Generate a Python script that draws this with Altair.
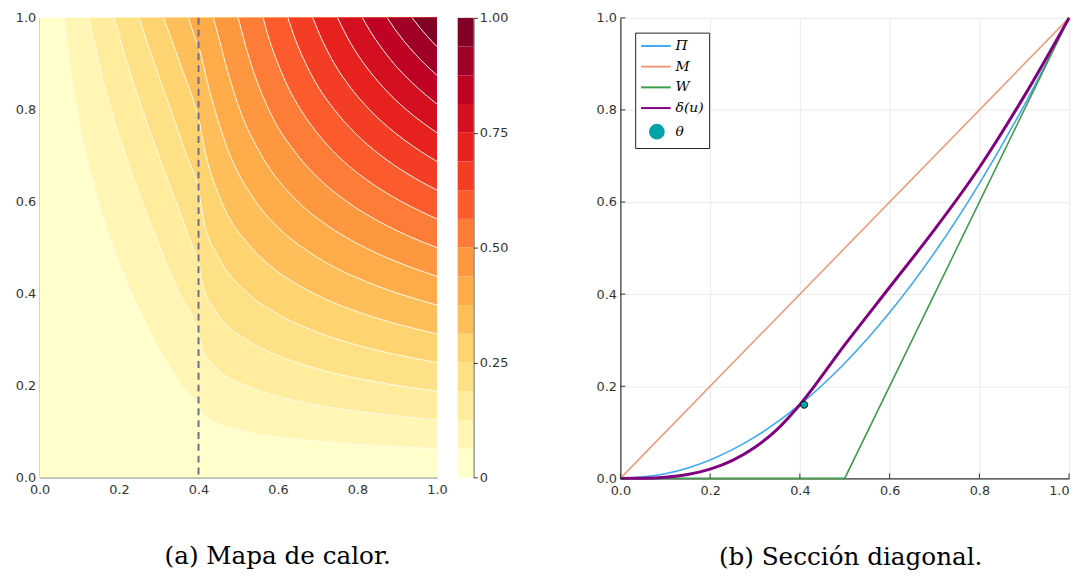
import altair as alt
import pandas as pd

THETA = 0.4

# ---------------- left panel: contour levels & colours ----------------
level_edges = [0.0, 0.0625, 0.125, 0.1875, 0.25, 0.3125, 0.375, 0.4375, 0.5,
               0.5625, 0.625, 0.6875, 0.75, 0.8125, 0.875, 0.9375, 1.0]
band_colors = ["#ffffcc", "#fff5b4", "#ffec9d", "#fee187", "#fed470", "#febf5a",
               "#feab49", "#fd9740", "#fd7c37", "#fc5b2e", "#f43d25", "#e6211e",
               "#d41020", "#c00225", "#a10026", "#800026"]
cbar_ticks = [0, 0.25, 0.5, 0.75, 1.0]
axis_ticks = [0.0, 0.2, 0.4, 0.6, 0.8, 1.0]

# contour lines (u, v), one list per level
contour_00 = [(0.0, 0.0), (1.0, 0.0)]
contour_01 = [(0.0625, 1.0), (0.076, 0.9), (0.094, 0.8), (0.1175, 0.7), (0.148, 0.6),
              (0.186, 0.5), (0.232, 0.4), (0.288, 0.3), (0.32, 0.25), (0.358, 0.2),
              (0.4, 0.156), (0.4085, 0.14), (0.442, 0.12), (0.517, 0.10), (0.583, 0.09),
              (0.682, 0.08), (0.832, 0.07), (0.937, 0.065), (1.0, 0.0625)]
contour_02 = [(0.125, 1.0), (0.15, 0.9), (0.18, 0.8), (0.217, 0.7), (0.258, 0.6),
              (0.303, 0.5), (0.352, 0.4), (0.4, 0.3125), (0.409, 0.28), (0.4425, 0.24),
              (0.518, 0.2), (0.584, 0.18), (0.682, 0.16), (0.833, 0.14), (0.937, 0.13),
              (1.0, 0.125)]
contour_03 = [(0.1875, 1.0), (0.221, 0.9), (0.259, 0.8), (0.3, 0.7), (0.343, 0.6),
              (0.386, 0.5), (0.4, 0.469), (0.41, 0.42), (0.445, 0.36), (0.52, 0.30),
              (0.586, 0.27), (0.684, 0.24), (0.833, 0.21), (0.937, 0.195), (1.0, 0.1875)]
contour_04 = [(0.25, 1.0), (0.289, 0.9), (0.33, 0.8), (0.37, 0.7), (0.4, 0.625),
              (0.413, 0.56), (0.45, 0.48), (0.525, 0.40), (0.59, 0.36), (0.686, 0.32),
              (0.834, 0.28), (0.937, 0.26), (1.0, 0.25)]
contour_05 = [(0.3125, 1.0), (0.354, 0.9), (0.394, 0.8), (0.4, 0.78125), (0.419, 0.70),
              (0.458, 0.60), (0.533, 0.50), (0.596, 0.45), (0.691, 0.40), (0.836, 0.35),
              (0.938, 0.325), (1.0, 0.3125)]
contour_06 = [(0.375, 1.0), (0.394, 0.95), (0.4, 0.9375), (0.428, 0.84), (0.471, 0.72),
              (0.544, 0.60), (0.605, 0.54), (0.697, 0.48), (0.839, 0.42), (0.94, 0.39),
              (1.0, 0.375)]
contour_07 = [(0.4375, 1.0), (0.453, 0.95), (0.468, 0.9), (0.504, 0.8), (0.559, 0.7),
              (0.65, 0.6), (0.721, 0.55), (0.819, 0.5), (0.896, 0.47), (1.0, 0.4375)]
contour_08 = [(0.5, 1.0), (0.515, 0.95), (0.532, 0.9), (0.577, 0.8), (0.65, 0.7),
              (0.703, 0.65), (0.7735, 0.6), (0.869, 0.55), (0.942, 0.52), (1.0, 0.5)]
contour_09 = [(0.5625, 1.0), (0.579, 0.95), (0.6, 0.9), (0.625, 0.85), (0.657, 0.8),
              (0.698, 0.75), (0.75, 0.7), (0.819, 0.65), (0.911, 0.6), (0.956, 0.58),
              (1.0, 0.5625)]
contour_10 = [(0.625, 1.0), (0.645, 0.95), (0.67, 0.9), (0.701, 0.85), (0.742, 0.8),
              (0.793, 0.75), (0.8595, 0.7), (0.927, 0.66), (0.967, 0.64), (1.0, 0.625)]
contour_11 = [(0.6875, 1.0), (0.712, 0.95), (0.742, 0.9), (0.781, 0.85), (0.8306, 0.8),
              (0.894, 0.75), (0.941, 0.72), (0.976, 0.7), (1.0, 0.6875)]
contour_12 = [(0.75, 1.0), (0.767, 0.97), (0.786, 0.94), (0.8165, 0.9), (0.8635, 0.85),
              (0.923, 0.8), (0.967, 0.77), (1.0, 0.75)]
contour_13 = [(0.8125, 1.0), (0.8327, 0.97), (0.856, 0.94), (0.892, 0.9), (0.936, 0.86),
              (0.975, 0.83), (1.0, 0.8125)]
contour_14 = [(0.875, 1.0), (0.8905, 0.98), (0.9166, 0.95), (0.9466, 0.92), (0.969, 0.9),
              (1.0, 0.875)]
contour_15 = [(0.9375, 1.0), (0.9557, 0.98), (0.9755, 0.96), (1.0, 0.9375)]

contours = [contour_00, contour_01, contour_02, contour_03, contour_04, contour_05,
            contour_06, contour_07, contour_08, contour_09, contour_10, contour_11,
            contour_12, contour_13, contour_14, contour_15]

# ---------------- right panel: diagonal sections ----------------
series_names = ["Π", "M", "W", "δ(u)", "θ"]
series_colors = ["#3fa9f5", "#ee9b7c", "#3d9c46", "#800080", "#00a3a8"]
LINE_SYM = "M-1,0L3,0"
DOT_SYM = "M0.2,0A0.93,0.93 0 1,0 2.06,0A0.93,0.93 0 1,0 0.2,0Z"
series_shapes = [LINE_SYM, LINE_SYM, LINE_SYM, LINE_SYM, DOT_SYM]

pi_u = [0.0, 0.1, 0.2, 0.3, 0.4, 0.5, 0.6, 0.7, 0.8, 0.9, 1.0]
pi_v = [0.0, 0.01, 0.04, 0.09, 0.16, 0.25, 0.36, 0.49, 0.64, 0.81, 1.0]
m_u = [0.0, 1.0]
m_v = [0.0, 1.0]
w_u = [0.0, 0.5, 1.0]
w_v = [0.0, 0.0, 1.0]
d_u = [0.0, 0.05, 0.1, 0.15, 0.2, 0.25, 0.3, 0.35, 0.4, 0.5, 0.6, 0.7, 0.8, 0.9, 1.0]
d_v = [0.0, 0.0003, 0.0025, 0.0084, 0.02, 0.039, 0.0675, 0.107, 0.16, 0.29, 0.415,
       0.54, 0.675, 0.83, 1.0]
theta_u = [0.4]
theta_v = [0.16]

# ---------------- build tables ----------------
rows = []
for k, pts in enumerate(contours):
    for u, v in pts:
        rows.append({"k": k, "u": u, "v": v, "top": 1.0})
df_c = pd.DataFrame(rows)

df_cb = pd.DataFrame({"lo": level_edges[:-1], "hi": level_edges[1:], "col": band_colors})
df_ticks = pd.DataFrame({"t": axis_ticks})


def series_df(name, us, vs):
    return pd.DataFrame({"series": [name] * len(us), "u": us, "v": vs})


df_pi = series_df("Π", pi_u, pi_v)
df_m = series_df("M", m_u, m_v)
df_w = series_df("W", w_u, w_v)
df_d = series_df("δ(u)", d_u, d_v)
df_theta = series_df("θ", theta_u, theta_v)

LABEL_FONT = "DejaVu Sans"
scale01 = alt.Scale(domain=[0, 1], nice=False, zero=False)
END_RIGHT = alt.condition("datum.value == 1", alt.value("right"), alt.value("center"))


def axis(grid=False, domain_color="#7a7a7a", align=None, pad=4):
    kw = dict(values=axis_ticks, format=".1f", grid=grid, gridColor="#ebebeb",
              gridWidth=1, ticks=False, labelPadding=pad, domainColor=domain_color,
              domainWidth=1.2, labelFont=LABEL_FONT, labelFontSize=13,
              labelColor="#333333", title=None, labelFlush=False)
    if align is not None:
        kw["labelAlign"] = align
    return alt.Axis(**kw)


PLOT_H = 466
CAPTION = dict(orient="bottom", font="DejaVu Serif", fontSize=25, fontWeight="normal",
               color="black", offset=49, baseline="top")

# ---------------- left heat map ----------------
X = alt.X("u:Q", scale=scale01, axis=axis(pad=6))
Y = alt.Y("v:Q", scale=scale01, axis=axis())

layers = []
for k in range(16):
    layers.append(
        alt.Chart(df_c[df_c.k == k]).mark_area(color=band_colors[k], interpolate="monotone",
                                               opacity=1)
        .encode(x=X, y=Y, y2="top:Q")
    )
layers.append(
    alt.Chart(df_c[df_c.k > 0]).mark_line(color="#fffbe6", strokeWidth=1,
                                          interpolate="monotone")
    .encode(x=X, y=Y, detail="k:N")
)
layers.append(
    alt.Chart(pd.DataFrame({"u": [THETA]})).mark_rule(color="#6c6c9c", strokeWidth=2,
                                                      strokeDash=[7, 5])
    .encode(x=X)
)
heat = alt.layer(*layers).properties(
    width=403, height=PLOT_H,
    title=alt.TitleParams("(a) Mapa de calor.", dx=40, **CAPTION),
)

cbar = alt.Chart(df_cb).mark_rect().encode(
    x=alt.value(0), x2=alt.value(16),
    y=alt.Y("lo:Q", scale=scale01,
            axis=alt.Axis(orient="right", values=cbar_ticks, title=None, ticks=True,
                          tickSize=4, tickColor="#333333", domainColor="#333333",
                          labelExpr="datum.value == 0 ? '0' : format(datum.value, '.2f')",
                          labelFont=LABEL_FONT, labelFontSize=13, labelColor="#333333",
                          labelPadding=2, grid=False, labelFlush=False)),
    y2="hi:Q",
    color=alt.Color("col:N", scale=None, legend=None),
).properties(width=16, height=PLOT_H)

left = alt.hconcat(heat, cbar, spacing=10)

# ---------------- right diagonal section ----------------
RH = PLOT_H + 1
XAX = axis(grid=True, domain_color="#333333", align=END_RIGHT, pad=6)
YAX = axis(grid=True, domain_color="#333333")
XR = alt.X("u:Q", scale=scale01, axis=XAX)
YR = alt.Y("v:Q", scale=scale01, axis=YAX)
legend = alt.Legend(title=None, orient="top-left", offset=15, padding=5,
                    strokeColor="#222222", fillColor="white", cornerRadius=0,
                    labelFont="DejaVu Serif", labelFontStyle="italic", labelFontSize=14,
                    symbolSize=225, symbolStrokeWidth=2, rowPadding=5, labelOffset=19)
COLOR = alt.Color("series:N", scale=alt.Scale(domain=series_names, range=series_colors),
                  legend=legend)
SHAPE = alt.Shape("series:N", scale=alt.Scale(domain=series_names, range=series_shapes),
                  legend=legend)

# inward tick marks at the axis tick values
xticks = alt.Chart(df_ticks).mark_rule(color="#333333", strokeWidth=1).encode(
    x=alt.X("t:Q", scale=scale01, axis=XAX), y=alt.value(RH), y2=alt.value(RH - 5))
yticks = alt.Chart(df_ticks).mark_rule(color="#333333", strokeWidth=1).encode(
    y=alt.Y("t:Q", scale=scale01, axis=YAX), x=alt.value(0), x2=alt.value(5))

lin_pi = alt.Chart(df_pi).mark_line(strokeWidth=1.6, interpolate="monotone").encode(
    x=XR, y=YR, color=COLOR)
lin_m = alt.Chart(df_m).mark_line(strokeWidth=1.6).encode(x=XR, y=YR, color=COLOR)
lin_w = alt.Chart(df_w).mark_line(strokeWidth=1.6).encode(x=XR, y=YR, color=COLOR)
lin_d = alt.Chart(df_d).mark_line(strokeWidth=3, interpolate="monotone").encode(
    x=XR, y=YR, color=COLOR)
pt = alt.Chart(df_theta).mark_point(filled=True, size=60, stroke="black", strokeWidth=1,
                                    opacity=1).encode(x=XR, y=YR, color=COLOR, shape=SHAPE)

right = alt.layer(lin_pi, lin_m, lin_w, lin_d, pt, xticks, yticks).properties(
    width=455, height=RH,
    title=alt.TitleParams("(b) Sección diagonal.", dx=6, **CAPTION),
)

chart = alt.hconcat(left, right, spacing=89).resolve_legend(
    color="independent", shape="independent"
).properties(
    padding={"left": 7, "top": 0, "right": 0, "bottom": 0}
).configure_view(stroke=None)

chart.save("out.html", embed_options={"renderer": "svg", "actions": False})
